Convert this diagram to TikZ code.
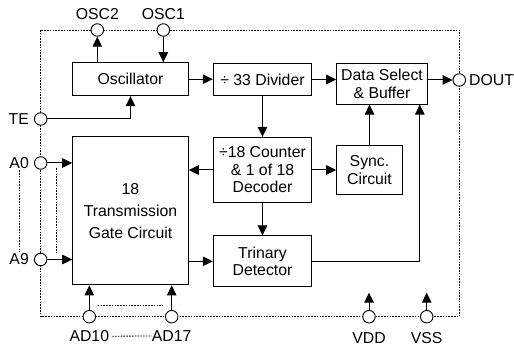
\documentclass[tikz,border=0pt]{standalone}
\usepackage{fontspec}
\setmainfont{Liberation Sans}
\usetikzlibrary{arrows.meta,positioning}
\definecolor{Ink}{HTML}{000000}
\tikzset{
  block/.style={
    draw=Ink, line width=1pt, fill=white, inner sep=0pt, align=center
  },
  pin/.style={
    circle, draw=Ink, line width=0.9pt, fill=white,
    minimum size=12.5pt, inner sep=0pt
  },
  pinlabel/.style={inner sep=0pt, text=Ink},
  flow/.style={-{Triangle[length=10pt,width=9.5pt]}, line width=1pt, draw=Ink},
  dotline/.style={draw=Ink, line width=0.8pt, dash pattern=on 1.6pt off 1.2pt}
}

\begin{document}
\begin{tikzpicture}[x=1pt,y=-1pt,font=\fontsize{15.8}{17.5}\selectfont]
    \useasboundingbox (0,0) rectangle (514,347);
    % package outline
    \draw[dotline] (40.7,30) rectangle (459.3,316.7);
    \draw[dotline] (97.7,305.7) -- (163.3,305.7);
    \draw[dotline] (56.7,168) -- (56.7,253);

    % blocks
    \node[block,minimum width=115.6pt,minimum height=33pt] (osc) at (130.5,79.2) {Oscillator};
    \node[block,minimum width=98.4pt,minimum height=32.4pt] (div) at (262.5,79.5) {÷ 33 Divider};
    \node[block,minimum width=90.6pt,minimum height=40.7pt] (sel) at (382,83.7) {Data Select\\\& Buffer};
    \node[block,minimum width=98.4pt,minimum height=65.4pt] (cnt) at (262.5,170) {÷18 Counter\\\& 1 of 18\\Decoder};
    \node[block,minimum width=65.6pt,minimum height=48.6pt] (sync) at (369.5,170) {Sync.\\Circuit};
    \node[block,minimum width=115.6pt,minimum height=148.3pt] (gate) at (130.5,210.8) {18\\[5pt]Transmission\\[4pt]Gate Circuit};
    \node[block,minimum width=98.4pt,minimum height=50.7pt] (tri) at (262.5,261.3) {Trinary\\Detector};

    % pins
    \node[pin] (osctwo) at (97.3,30) {};
    \node[pin] (oscone) at (163.3,30) {};
    \node[pin] (te) at (40.7,119) {};
    \node[pin] (azero) at (40.7,163) {};
    \node[pin] (anine) at (40.7,259.5) {};
    \node[pin] (adten) at (89.3,316.7) {};
    \node[pin] (adseventeen) at (171.7,316.7) {};
    \node[pin] (vdd) at (369,316.7) {};
    \node[pin] (vss) at (426.7,316.7) {};
    \node[pin] (dout) at (459.3,80) {};
    \coordinate (vddtip) at (369,292.7);
    \coordinate (vsstip) at (426.7,292.7);

    \node[pinlabel,above=3pt of osctwo] {OSC2};
    \node[pinlabel,above=3pt of oscone] {OSC1};
    \node[pinlabel,left=5pt of te] {TE};
    \node[pinlabel,left=5pt of azero] (azerolab) {A0};
    \node[pinlabel,left=5pt of anine] (aninelab) {A9};
    \node[pinlabel,right=3pt of dout] {DOUT};
    \node[pinlabel,below=7pt of adten] (adtenlab) {AD10};
    \node[pinlabel,below=7pt of adseventeen] (adseventeenlab) {AD17};
    \node[pinlabel,below=9pt of vdd] {VDD};
    \node[pinlabel,below=9pt of vss] {VSS};
    \draw[dotline,shorten <=1.5pt,shorten >=1.5pt] (azerolab.south) -- (azerolab.south |- aninelab.north);
    \draw[dotline,shorten <=3pt] (adtenlab.east) -- (adseventeenlab.west);

    % signal flow
    \draw[flow] (osc.north -| osctwo) -- (osctwo.south);
    \draw[flow] (oscone.south) -- (oscone.south |- osc.north);
    \draw[flow] (te.east) -| (osc.south);
    \draw[flow] (osc.east) -- (osc.east -| div.west);
    \draw[flow] (div.east) -- (div.east -| sel.west);
    \draw[flow] (sel.east |- dout.west) -- (dout.west);
    \draw[flow] (div.south) -- (cnt.north);
    \draw[flow] (cnt.east) -- (sync.west);
    \draw[flow] (cnt.west) -- (cnt.west -| gate.east);
    \draw[flow] (cnt.south) -- (tri.north);
    \draw[flow] (gate.east |- tri.west) -- (tri.west);
    \draw[flow] (sync.north) -- (sync.north |- sel.south);
    \draw[flow] (tri.east) -| ([xshift=-8pt]sel.south east);
    \draw[flow] (azero.east) -- (azero.east -| gate.west);
    \draw[flow] (anine.east) -- (anine.east -| gate.west);
    \draw[flow] (adten.north) -- (adten.north |- gate.south);
    \draw[flow] (adseventeen.north) -- (adseventeen.north |- gate.south);
    \draw[flow] (vdd.north) -- (vddtip);
    \draw[flow] (vss.north) -- (vsstip);
\end{tikzpicture}
\end{document}
